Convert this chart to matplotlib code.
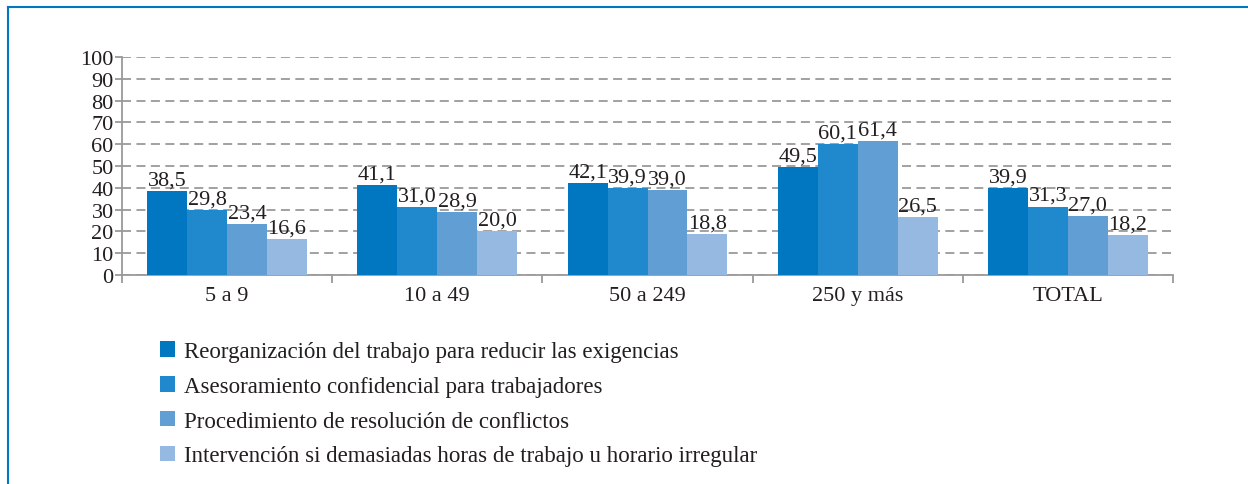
import matplotlib
matplotlib.use("Agg")
import matplotlib.pyplot as plt
import numpy as np
from matplotlib.patches import Patch
from matplotlib.lines import Line2D

categories = ["5 a 9", "10 a 49", "50 a 249", "250 y más", "TOTAL"]
series_names = [
    "Reorganización del trabajo para reducir las exigencias",
    "Asesoramiento confidencial para trabajadores",
    "Procedimiento de resolución de conflictos",
    "Intervención si demasiadas horas de trabajo u horario irregular",
]
reorganizacion = [38.5, 41.1, 42.1, 49.5, 39.9]
asesoramiento = [29.8, 31.0, 39.9, 60.1, 31.3]
procedimiento = [23.4, 28.9, 39.0, 61.4, 27.0]
intervencion = [16.6, 20.0, 18.8, 26.5, 18.2]
series_values = [reorganizacion, asesoramiento, procedimiento, intervencion]
colors = ["#0077C0", "#2088CC", "#619ED4", "#95B9E0"]
yticks = list(range(0, 101, 10))

plt.rcParams['font.family'] = ['Liberation Serif', 'DejaVu Serif']
FS = 16
TC = "#231f20"

fig = plt.figure(figsize=(12.48, 4.85), dpi=100)
W, H = 1248, 485
ax = fig.add_axes([122 / W, 1 - 276 / H, (1173 - 122) / W, (276 - 58) / H])

n = len(categories)
x = np.arange(n)
bw = 0.19
for i, vals in enumerate(series_values):
    pos = x + (i - 1.5) * bw
    ax.bar(pos, vals, width=bw, color=colors[i], zorder=3, label=series_names[i])
    for p, v in zip(pos, vals):
        ax.text(p, v + 0.8, f"{v:.1f}".replace(".", ","), ha="center", va="bottom",
                fontsize=FS, color=TC, zorder=4)

ax.set_xlim(-0.5, n - 0.5)
ax.set_ylim(0, 100)
ax.set_yticks(yticks)
ax.set_yticklabels([str(t) for t in yticks], fontsize=FS, color=TC)
ax.yaxis.grid(True, linestyle=(0, (5, 3)), color="#9a9a9a", linewidth=1.3, zorder=0)
ax.set_xticks(x)
ax.set_xticklabels(categories, fontsize=FS, color=TC)
ax.set_xticks(np.arange(-0.5, n, 1.0), minor=True)
ax.tick_params(axis="x", which="major", length=0, pad=8)
ax.tick_params(axis="x", which="minor", length=6, width=1.3, color="#9a9a9a")
ax.tick_params(axis="y", length=5, width=1.3, color="#9a9a9a", pad=1)
for s in ["top", "right"]:
    ax.spines[s].set_visible(False)
for s in ["left", "bottom"]:
    ax.spines[s].set_color("#9a9a9a")
    ax.spines[s].set_linewidth(1.3)

# legend
handles = [Patch(facecolor=c, edgecolor="none") for c in colors]
leg = fig.legend(handles, series_names, loc="upper left",
                 bbox_to_anchor=(151 / W, 1 - 333 / H), frameon=False,
                 fontsize=16.5, handlelength=0.65, handleheight=0.65,
                 handletextpad=0.4, labelspacing=0.6, borderaxespad=0)
for t in leg.get_texts():
    t.set_color(TC)

# frame lines (top and left)
fig.add_artist(Line2D([8 / W, 1], [1 - 8 / H, 1 - 8 / H], color="#0077C0", linewidth=1.5,
                      transform=fig.transFigure))
fig.add_artist(Line2D([8 / W, 8 / W], [0, 1 - 8 / H], color="#0077C0", linewidth=1.5,
                      transform=fig.transFigure))

fig.savefig("out.png", dpi=100)
